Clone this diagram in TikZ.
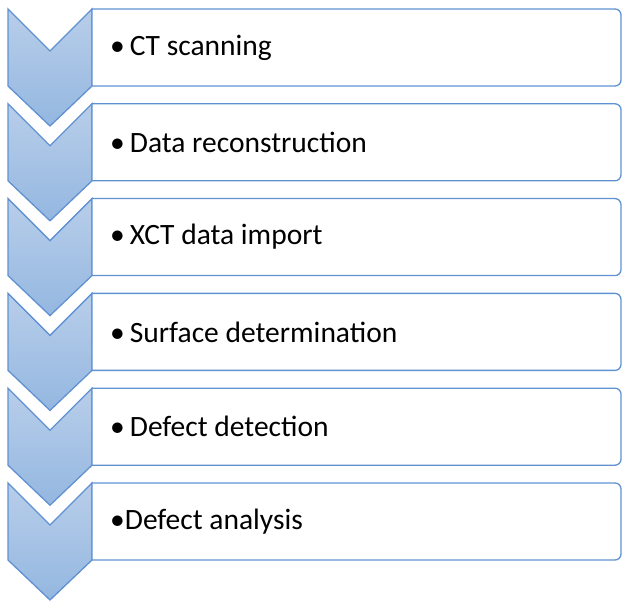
\documentclass[tikz,border=0pt]{standalone}
\usepackage{fontspec}
\setmainfont{Carlito}

\definecolor{chevtop}{RGB}{184,206,234}
\definecolor{chevbot}{RGB}{148,183,224}
\definecolor{chevline}{RGB}{96,146,210}

\tikzset{
  chev/.style={top color=chevtop, bottom color=chevbot, draw=chevline, line width=1.3pt},
  stepbox/.style={draw=chevline, fill=white, line width=1.3pt},
  steptext/.style={anchor=west, inner sep=0pt, font=\fontsize{29.5}{34}\selectfont}
}

\begin{document}
\begin{tikzpicture}[x=1pt,y=-1pt]
  \useasboundingbox (0,0) rectangle (622,601);
  % one chevron and one box per step
  \foreach \i/\gap/\txt in {0/5pt/CT scanning, 1/5pt/Data reconstruction,
      2/5pt/XCT data import, 3/5pt/Surface determination,
      4/5pt/Defect detection, 5/0pt/Defect analysis} {
    \pgfmathsetmacro\t{9+94.8*\i}
    \path[chev] (8,\t) -- ++(42,42) -- ++(42,-42) -- ++(0,77) -- ++(-42,40) -- ++(-42,-40) -- cycle;
    \draw[stepbox] (92,\t) [rounded corners=6pt] -- (621,\t) -- (621,\t+77) [sharp corners] -- (92,\t+77) -- cycle;
    \node[steptext] (step\i) at (110,\t+38.5) {\textbullet\hspace{\gap}\txt};
  }
\end{tikzpicture}
\end{document}
